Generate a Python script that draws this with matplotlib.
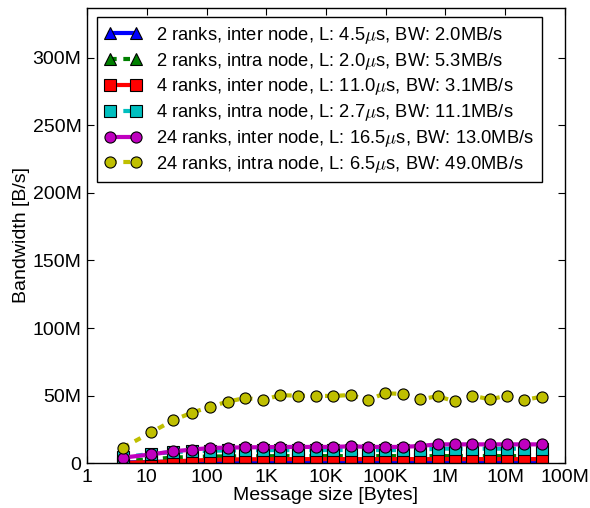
import matplotlib
matplotlib.use("Agg")
import matplotlib.pyplot as plt

plt.rcParams['font.family'] = ['Liberation Sans', 'DejaVu Sans']
plt.rcParams['mathtext.fontset'] = 'cm'

# message sizes in bytes
sizes = [4, 12, 28, 57, 113, 226, 443, 873, 1730, 3380, 6700, 13250, 25900, 50500,
         97300, 191000, 376000, 737000, 1440000, 2810000, 5560000, 10700000,
         20900000, 40900000]

# bandwidth in MB/s
bw_2_inter = [0.6, 1.0, 1.3, 1.4, 1.5, 1.6, 1.6, 1.6, 1.6, 1.6, 1.6, 1.6, 1.6, 1.6,
              1.6, 1.6, 1.6, 1.6, 1.6, 1.6, 1.6, 1.6, 1.6, 1.6]
bw_2_intra = [1.5, 3.0, 4.2, 4.7, 5.0, 5.1, 5.2, 5.2, 5.3, 5.3, 5.3, 5.3, 5.3, 5.3,
              5.3, 5.3, 5.3, 5.3, 5.3, 5.3, 5.3, 5.3, 5.3, 5.3]
bw_4_inter = [0.3, 0.8, 1.5, 2.0, 2.5, 2.8, 3.0, 3.0, 3.1, 3.1, 3.1, 3.1, 3.1, 3.1,
              3.1, 3.1, 3.1, 3.1, 3.1, 3.1, 3.1, 3.1, 3.1, 3.1]
bw_4_intra = [4.5, 7.0, 8.3, 8.9, 9.3, 9.5, 9.6, 9.7, 9.8, 9.8, 9.8, 9.8, 9.8, 9.8,
              9.8, 9.8, 10.0, 10.8, 10.8, 10.8, 10.8, 10.8, 10.8, 10.8]
bw_24_inter = [4.2, 6.6, 8.9, 10.1, 11.3, 11.6, 11.8, 11.9, 12.1, 12.1, 12.1, 12.1,
               12.6, 12.1, 12.1, 12.1, 12.8, 14.0, 14.0, 14.0, 14.0, 14.0, 14.0, 14.0]
bw_24_intra = [11.6, 23.0, 32.0, 37.4, 41.7, 45.6, 48.3, 46.8, 50.4, 50.0, 49.9, 49.8,
               50.5, 46.8, 51.8, 51.3, 47.3, 49.6, 45.8, 50.0, 47.3, 50.0, 46.8, 49.3]

labels = ["2 ranks, inter node, L: 4.5$\\mu$s, BW: 2.0MB/s",
          "2 ranks, intra node, L: 2.0$\\mu$s, BW: 5.3MB/s",
          "4 ranks, inter node, L: 11.0$\\mu$s, BW: 3.1MB/s",
          "4 ranks, intra node, L: 2.7$\\mu$s, BW: 11.1MB/s",
          "24 ranks, inter node, L: 16.5$\\mu$s, BW: 13.0MB/s",
          "24 ranks, intra node, L: 6.5$\\mu$s, BW: 49.0MB/s"]

xticks = [1, 10, 100, 1e3, 1e4, 1e5, 1e6, 1e7, 1e8]
xticklabels = ['1', '10', '100', '1K', '10K', '100K', '1M', '10M', '100M']
yticks = [0, 50, 100, 150, 200, 250, 300]
yticklabels = ['0', '50M', '100M', '150M', '200M', '250M', '300M']

series = [bw_2_inter, bw_2_intra, bw_4_inter, bw_4_intra, bw_24_inter, bw_24_intra]
colors = ['b', 'g', 'r', 'c', 'm', 'y']
markers = ['^', '^', 's', 's', 'o', 'o']

fig = plt.figure(figsize=(5.9, 5.08), dpi=100)
ax = fig.add_axes([0.1475, 0.088, 0.81, 0.897])

for i in range(6):
    scaled = [v * 1e6 for v in series[i]]
    ls = '-' if i % 2 == 0 else '--'
    line, = ax.plot(sizes, scaled, color=colors[i], marker=markers[i], linestyle=ls,
                    lw=3, ms=8, mec='k', mew=0.8, label=labels[i])
    if i % 2 == 1:
        line.set_dashes([1.6, 1.6])

ax.set_xscale('log')
ax.set_xlim(1, 1e8)
ax.set_ylim(0, 337e6)
ax.set_xticks(xticks)
ax.set_xticklabels(xticklabels)
ax.set_yticks([v * 1e6 for v in yticks])
ax.set_yticklabels(yticklabels)
ax.tick_params(which='both', direction='in', top=True, right=True, labelsize=14, pad=4)
ax.tick_params(which='major', length=5)
ax.tick_params(which='minor', length=3)
for s in ax.spines.values():
    s.set_linewidth(1.0)

ax.set_xlabel("Message size [Bytes]", fontsize=14, labelpad=1)
ax.set_ylabel("Bandwidth [B/s]", fontsize=14, labelpad=2)

leg = ax.legend(loc='upper left', bbox_to_anchor=(0.021, 0.979), numpoints=2,
                fontsize=13.2, fancybox=False, framealpha=1, edgecolor='k',
                handlelength=2.0, handletextpad=0.8, borderpad=0.42,
                labelspacing=0.26, borderaxespad=0)
leg.get_frame().set_linewidth(1.0)

plt.savefig("out.png", dpi=100)
